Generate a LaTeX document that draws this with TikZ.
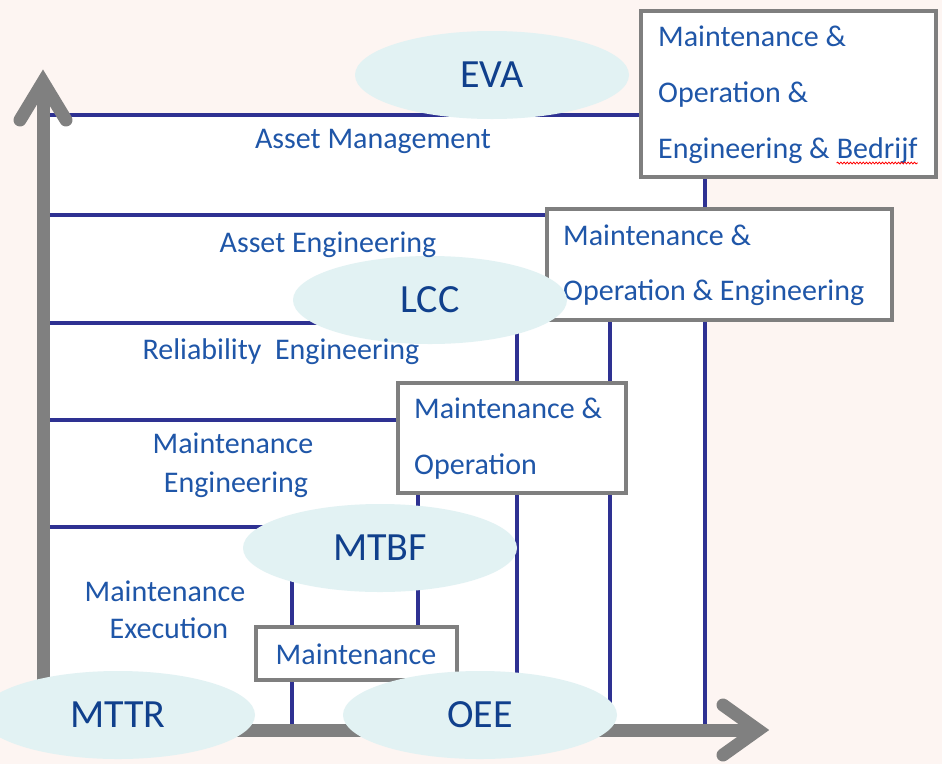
\documentclass[tikz,border=0pt]{standalone}
\usepackage{fontspec}
\setmainfont{Carlito}
\usepackage{tikz}
\usetikzlibrary{fit}
\usetikzlibrary{positioning}
\usetikzlibrary{shapes.geometric}
\usetikzlibrary{decorations.pathmorphing}
\definecolor{navy}{RGB}{46,49,146}
\definecolor{txtblue}{RGB}{31,86,168}
\definecolor{ellblue}{RGB}{16,64,140}
\definecolor{ellfill}{RGB}{226,242,243}
\definecolor{bgpink}{RGB}{253,245,242}
\definecolor{axisgray}{RGB}{128,128,128}
\definecolor{boxgray}{RGB}{127,127,127}

\begin{document}
\begin{tikzpicture}[x=1pt, y=-1pt,
	level/.style={draw=navy, line width=4pt},
	axis/.style={draw=axisgray, line width=13pt, line join=miter},
	tip/.style={draw=axisgray, line width=13pt, line cap=round, line join=miter},
	box/.style={draw=boxgray, fill=white, line width=4pt, inner sep=0pt},
	btxt/.style={text=txtblue, font=\fontsize{30}{36}\selectfont, inner sep=0pt},
	lbl/.style={text=txtblue, font=\fontsize{30}{36}\selectfont, inner sep=0pt, anchor=base},
	kpi/.style={ellipse, fill=ellfill, text=ellblue, font=\fontsize{40}{48}\selectfont,
		minimum width=274pt, minimum height=88pt, inner sep=0pt}]

	\useasboundingbox (0,0) rectangle (942,764);
	\fill[bgpink] (0,0) rectangle (942,764);
	\fill[white] (43,115) rectangle (705,730);

	\draw[level] (43,115) -| (705,730);	% Asset Management
	\draw[level] (43,215) -| (610,730);	% Asset Engineering
	\draw[level] (43,323) -| (517,730);	% Reliability Engineering
	\draw[level] (43,420) -| (418,730);	% Maintenance Engineering
	\draw[level] (43,527) -| (292,730);	% Maintenance Execution

	\draw[axis] (43,84) -- (43,730) -- (758,730);	% axes
	\draw[tip] (20,120) -- (43,82) -- (66,120);
	\draw[tip] (723,705) -- (758,730) -- (723,755);

	\node[box, fit={(641,11) (936,177)}] (A) {};	% top box
	\node[btxt, anchor=base west] (A1) at (658,46) {Maintenance \&};
	\node[btxt, anchor=base west] (A2) at (658,102) {Operation \&};
	\node[btxt, anchor=base west] (A3) at (658,158) {Engineering \&};
	\node[btxt, base right=6.8pt of A3] (A4) {Bedrijf};
	\draw[red, line width=0.8pt, decorate, decoration={snake, amplitude=0.9pt, segment length=3.2pt}]
		([yshift=-5pt]A4.base west) -- ([yshift=-5pt]A4.base east);

	\node[box, fit={(547,209) (892,320)}] (B) {};
	\node[btxt, anchor=base west] (B1) at (563,245) {Maintenance \&};
	\node[btxt, anchor=base west] (B2) at (563,300) {Operation \& Engineering};

	\node[box, fit={(398,383) (626,493)}] (C) {};
	\node[btxt, anchor=base west] (C1) at (414,418) {Maintenance \&};
	\node[btxt, anchor=base west] (C2) at (414,474) {Operation};

	\node[box, fit={(256,627) (457,680)}] (D) {};
	\node[btxt, anchor=base] (D1) at (356,664) {Maintenance};

	\node[kpi] (eva) at (492,75) {EVA};	% indicators
	\node[kpi] (lcc) at (430,300) {LCC};
	\node[kpi] (mtbf) at (380,548) {MTBF};
	\node[kpi] (mttr) at (118,715) {MTTR};
	\node[kpi] (oee) at (480,715) {OEE};

	\node[lbl] (am) at (373,148) {Asset Management};	% levels
	\node[lbl] (ae) at (328,252) {Asset Engineering};
	\node[lbl] (re) at (281,359) {Reliability\ \ Engineering};
	\node[lbl] (me1) at (233,453) {Maintenance};
	\node[lbl] (me2) at (236,492) {Engineering};
	\node[lbl] (mx1) at (165,601) {Maintenance};
	\node[lbl] (mx2) at (169,638) {Execution};
\end{tikzpicture}
\end{document}
